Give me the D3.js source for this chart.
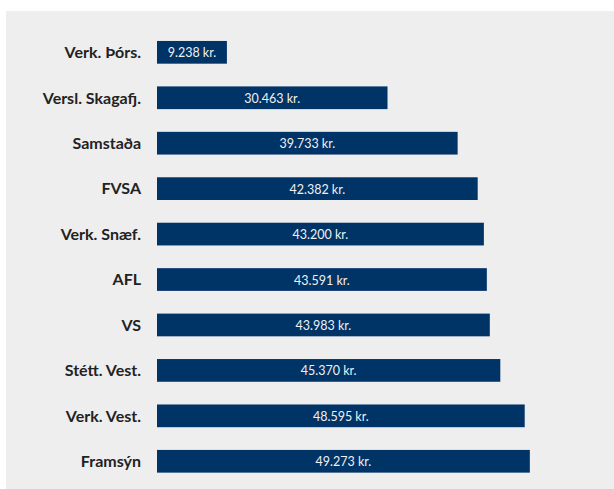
<!DOCTYPE html>
<html><head><meta charset="utf-8">
<script src="https://cdn.jsdelivr.net/npm/d3@7"></script>
<style>html,body{margin:0;padding:0;background:#fff;}svg{display:block;}</style>
</head><body>
<script>
const categories = ["Verk. Þórs.","Versl. Skagafj.","Samstaða","FVSA","Verk. Snæf.","AFL","VS","Stétt. Vest.","Verk. Vest.","Framsýn"];
const values = [9238,30463,39733,42382,43200,43591,43983,45370,48595,49273];
const valueLabels = ["9.238 kr.","30.463 kr.","39.733 kr.","42.382 kr.","43.200 kr.","43.591 kr.","43.983 kr.","45.370 kr.","48.595 kr.","49.273 kr."];

const W = 614, H = 489;
const svg = d3.select("body").append("svg").attr("width", W).attr("height", H);
svg.append("rect").attr("x",6).attr("y",11).attr("width",W-6).attr("height",H-11).attr("fill","#eeeeee");

const x = d3.scaleLinear().domain([0,60000]).range([157,611]);
const y = d3.scaleBand().domain(categories).range([29.6,484.0]).paddingInner(0.5).paddingOuter(0.25);

const g = svg.append("g");
g.selectAll("rect.bar").data(categories).join("rect").attr("class","bar")
 .attr("x", x(0)).attr("y", d=>y(d)).attr("width", (d,i)=>x(values[i])-x(0)).attr("height", y.bandwidth())
 .attr("fill","#003366");

g.selectAll("text.val").data(categories).join("text").attr("class","val")
 .attr("x",(d,i)=>(x(0)+x(values[i]))/2).attr("y", d=>y(d)+y.bandwidth()/2+5)
 .attr("text-anchor","middle").attr("fill","#f0f0f0")
 .style("font-family","Lato, 'Open Sans', sans-serif").style("font-size","12.5px")
 .text((d,i)=>valueLabels[i]);

const yAxis = d3.axisLeft(y).tickSize(0).tickPadding(0);
const ax = svg.append("g").attr("transform","translate(141,0)").call(yAxis);
ax.select(".domain").remove();
ax.selectAll("text").attr("fill","#222").style("font-family","Lato, 'Open Sans', sans-serif")
 .style("font-size","16px").style("font-weight","bold").attr("dy","0.36em");
</script>
</body></html>
